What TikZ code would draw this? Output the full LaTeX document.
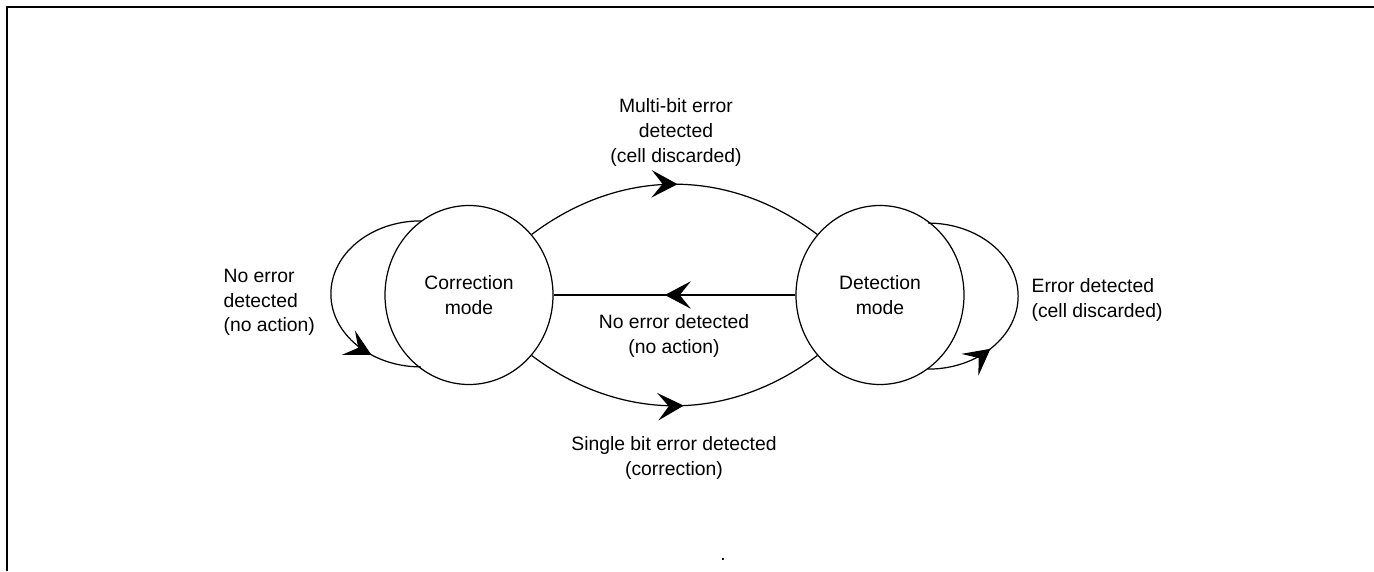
\documentclass[tikz,border=0pt]{standalone}
\usepackage{fontspec}
\setmainfont{Liberation Sans}
\usetikzlibrary{arrows.meta,decorations.markings,shapes.geometric}
\begin{document}
\begin{tikzpicture}[font=\fontsize{11}{14}\selectfont, line width=0.7pt,
  mode/.style={draw, ellipse, minimum width=3.36cm, minimum height=3.58cm, inner sep=0pt, align=center},
  txt/.style={inner sep=0pt},
  midarrow/.style={postaction={decorate}, decoration={markings,
    mark=at position #1 with {\arrow{Stealth[length=0.52cm,width=0.55cm,inset=0.22cm]}}}}]
\useasboundingbox (0,0) rectangle (27.48,11.42);
\draw[line width=1.1pt] (0.14,0) -- (0.14,11.28) -- (27.48,11.28);
% the two modes
\node[mode] (corr) at (9.38,5.52) {Correction\\mode};
\node[mode] (det) at (17.6,5.52) {Detection\\mode};
% transitions
\draw[midarrow=0.51] (corr.44) to[out=37,in=143] (det.136);
\draw[midarrow=0.53] (corr.-44) to[out=-37,in=-143] (det.-136);
\draw[midarrow=0.54] (det) -- (corr);
\draw[midarrow=0.8] (corr.123) arc[start angle=90,end angle=270,x radius=1.8,y radius=1.46];
\draw[midarrow=0.26] (det.-57) arc[start angle=-90,end angle=90,x radius=1.8,y radius=1.46];
% labels
\node[txt, align=center] (multi) at (13.52,8.77) {Multi-bit error\\detected\\(cell discarded)};
\node[txt, align=left, anchor=west] (noerr) at (4.46,5.37) {No error\\detected\\(no action)};
\node[txt, align=left, anchor=west] (errdet) at (20.62,5.42) {Error detected\\(cell discarded)};
\node[txt, align=center] (back) at (13.48,4.70) {No error detected\\(no action)};
\node[txt, align=center] (single) at (13.48,2.26) {Single bit error detected\\(correction)};
\node[txt, anchor=base] (dot) at (14.46,0.21) {.};
\end{tikzpicture}
\end{document}
